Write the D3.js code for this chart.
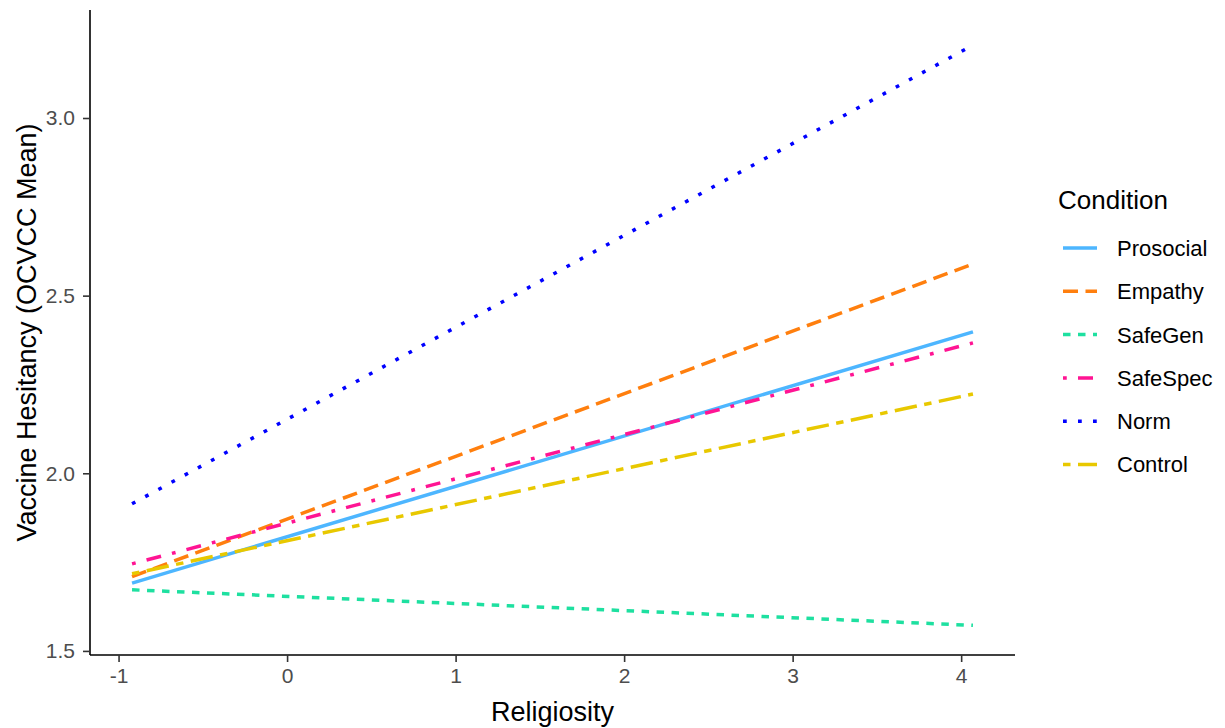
<!DOCTYPE html>
<html>
<head>
<meta charset="utf-8">
<script src="https://cdn.jsdelivr.net/npm/d3@7"></script>
<style>
  body { margin: 0; background: #fff; }
  svg { font-family: "Liberation Sans", Arial, sans-serif; }
</style>
</head>
<body>
<svg id="chart"></svg>
<script>
// predicted lines, start/end of religiosity range
const conditions = ["Prosocial", "Empathy", "SafeGen", "SafeSpec", "Norm", "Control"];
const xStart = -0.92;
const xEnd = 4.07;
const yStart = [1.691, 1.709, 1.672, 1.745, 1.914, 1.717];
const yEnd   = [2.398, 2.589, 1.572, 2.367, 3.205, 2.223];
const xTicks = [-1, 0, 1, 2, 3, 4];
const yTicks = [1.5, 2.0, 2.5, 3.0];

const colors = ["#4db6ff", "#ff7f0e", "#1ee0a0", "#ff1493", "#0000ff", "#e8c800"];
const dashes = ["none", "15,7.5", "7.5,7.5", "3.75,11.25,15,11.25", "3.75,11.25", "7.5,7.5,22.5,7.5"];

const W = 1225, H = 728;
const panel = {left: 90, right: 1015, top: 10, bottom: 655};

const svg = d3.select("#chart").attr("width", W).attr("height", H);

const x = d3.scaleLinear().domain([-1.1695, 4.3195]).range([panel.left, panel.right]);
const y = d3.scaleLinear().domain([1.4885, 3.304]).range([panel.bottom, panel.top]);

const series = conditions.map((c, i) => ({
  name: c,
  color: colors[i],
  dash: dashes[i],
  pts: [[xStart, yStart[i]], [xEnd, yEnd[i]]]
}));

const line = d3.line().x(d => x(d[0])).y(d => y(d[1]));

svg.append("g")
  .selectAll("path")
  .data(series)
  .enter()
  .append("path")
    .attr("d", d => line(d.pts))
    .attr("fill", "none")
    .attr("stroke", d => d.color)
    .attr("stroke-width", 3.5)
    .attr("stroke-dasharray", d => d.dash)
    .attr("stroke-linecap", "butt");

// axes (plain hyphen for negatives, like R)
const xAxis = svg.append("g")
  .attr("transform", `translate(0,${panel.bottom})`)
  .call(d3.axisBottom(x).tickValues(xTicks).tickFormat(d => String(d)).tickSize(7).tickPadding(6));

const yAxis = svg.append("g")
  .attr("transform", `translate(${panel.left},0)`)
  .call(d3.axisLeft(y).tickValues(yTicks).tickFormat(d => d.toFixed(1)).tickSize(7).tickPadding(8));

[xAxis, yAxis].forEach(a => {
  a.select(".domain").attr("stroke", "#000").attr("stroke-width", 1.6);
  a.selectAll(".tick line").attr("stroke", "#333").attr("stroke-width", 1.6);
  a.selectAll(".tick text")
    .attr("fill", "#4d4d4d")
    .style("font-size", "21px")
    .style("font-family", "'Liberation Sans', Arial, sans-serif");
});
// ggplot axis lines stop at the panel edge
xAxis.select(".domain").attr("d", `M${panel.left},0H${panel.right}`);
yAxis.select(".domain").attr("d", `M0,${panel.top}V${panel.bottom}`);

// titles
svg.append("text")
  .attr("x", (panel.left + panel.right) / 2)
  .attr("y", 721)
  .attr("text-anchor", "middle")
  .style("font-size", "27px")
  .text("Religiosity");

svg.append("text")
  .attr("transform", `translate(36,${(panel.top + panel.bottom) / 2}) rotate(-90)`)
  .attr("text-anchor", "middle")
  .style("font-size", "27px")
  .text("Vaccine Hesitancy (OCVCC Mean)");

// legend
const legend = svg.append("g").attr("transform", "translate(1058,0)");
legend.append("text")
  .attr("x", 0)
  .attr("y", 209)
  .style("font-size", "26px")
  .text("Condition");

const rows = legend.selectAll(".row")
  .data(series)
  .enter()
  .append("g")
    .attr("class", "row")
    .attr("transform", (d, i) => `translate(0,${248 + i * 43.3})`);

rows.append("line")
  .attr("x1", 5).attr("x2", 39)
  .attr("y1", 0).attr("y2", 0)
  .attr("stroke", d => d.color)
  .attr("stroke-width", 3.5)
  .attr("stroke-dasharray", d => d.dash);

rows.append("text")
  .attr("x", 59)
  .attr("y", 0)
  .attr("dy", "0.36em")
  .style("font-size", "22px")
  .attr("fill", "#000")
  .text(d => d.name);
</script>
</body>
</html>
